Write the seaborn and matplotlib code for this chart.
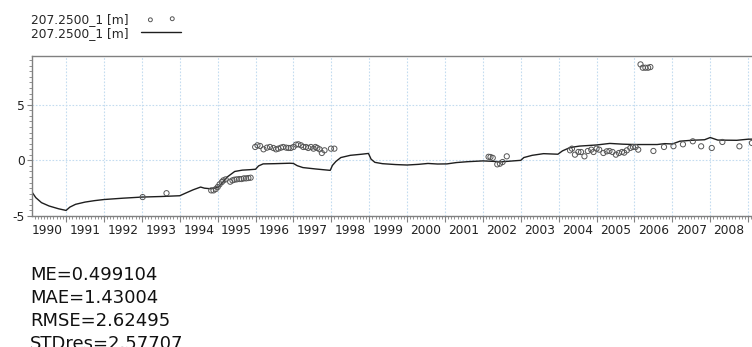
import matplotlib
matplotlib.use("Agg")
import matplotlib.pyplot as plt
import seaborn as sns
from matplotlib.collections import PathCollection
from matplotlib.legend_handler import HandlerPathCollection
from matplotlib.ticker import MultipleLocator, NullLocator

# Simulated head (continuous line), decimal years
sim_year = [1990.10, 1990.20, 1990.35, 1990.55, 1990.80, 1991.00, 1991.10, 1991.25,
            1991.50, 1991.75, 1992.00, 1992.50, 1993.00, 1993.50, 1994.00, 1994.15,
            1994.35, 1994.55, 1994.65, 1994.80, 1995.00, 1995.10, 1995.25, 1995.45,
            1995.65, 1995.85, 1996.00, 1996.08, 1996.20, 1996.50, 1996.90, 1997.00,
            1997.10, 1997.25, 1997.60, 1997.97, 1998.03, 1998.12, 1998.25, 1998.50,
            1998.80, 1998.98, 1999.05, 1999.15, 1999.35, 1999.70, 2000.00, 2000.30,
            2000.55, 2000.80, 2001.05, 2001.30, 2001.60, 2002.00, 2002.20, 2002.50,
            2002.80, 2003.00, 2003.08, 2003.30, 2003.60, 2003.98, 2004.10, 2004.30,
            2004.55, 2005.00, 2005.35, 2005.70, 2006.00, 2006.60, 2006.80, 2007.00,
            2007.20, 2007.50, 2007.85, 2008.00, 2008.20, 2008.70, 2009.00, 2009.50]
sim_level = [-2.85, -3.35, -3.80, -4.10, -4.35, -4.50, -4.20, -3.95,
             -3.75, -3.62, -3.52, -3.40, -3.30, -3.25, -3.18, -2.95,
             -2.65, -2.40, -2.50, -2.55, -2.45, -2.10, -1.50, -1.00,
             -0.88, -0.84, -0.80, -0.50, -0.32, -0.30, -0.26, -0.28,
             -0.48, -0.65, -0.78, -0.90, -0.45, -0.10, 0.25, 0.45,
             0.55, 0.62, 0.10, -0.18, -0.30, -0.38, -0.42, -0.36,
             -0.28, -0.33, -0.32, -0.20, -0.12, -0.05, -0.08, -0.13,
             -0.05, 0.00, 0.25, 0.45, 0.60, 0.55, 0.85, 1.15,
             1.28, 1.38, 1.52, 1.45, 1.42, 1.42, 1.50, 1.47,
             1.72, 1.80, 1.85, 2.05, 1.82, 1.80, 1.90, 1.92]

# Observed head (open circles), decimal years
obs_year = [1993.02, 1993.65,
            1994.83, 1994.89, 1994.95, 1995.00, 1995.05, 1995.11, 1995.15, 1995.21,
            1995.33, 1995.39, 1995.44, 1995.50, 1995.57, 1995.63, 1995.69, 1995.75,
            1995.81, 1995.87,
            1995.99, 1996.05, 1996.12, 1996.21, 1996.30, 1996.38, 1996.47, 1996.54,
            1996.60, 1996.67, 1996.73, 1996.81, 1996.87, 1996.93, 1997.00, 1997.07,
            1997.13, 1997.20, 1997.26, 1997.33, 1997.39, 1997.46, 1997.53, 1997.58,
            1997.63, 1997.69, 1997.75, 1997.82, 1997.99, 1998.08,
            2002.15, 2002.20, 2002.26, 2002.38, 2002.45, 2002.52, 2002.63,
            2004.30, 2004.35, 2004.43, 2004.52, 2004.59, 2004.68, 2004.77, 2004.86,
            2004.92, 2005.00, 2005.07, 2005.18, 2005.27, 2005.34, 2005.42, 2005.51,
            2005.59, 2005.67, 2005.73, 2005.80, 2005.89, 2005.96, 2006.03, 2006.10,
            2006.50, 2006.78, 2007.03, 2007.28, 2007.54, 2007.76, 2008.04, 2008.32,
            2008.77, 2009.10,
            2006.16, 2006.22, 2006.29, 2006.36, 2006.42]
obs_level = [-3.30, -2.95,
             -2.70, -2.70, -2.58, -2.40, -2.16, -1.95, -1.80, -1.71,
             -1.92, -1.80, -1.74, -1.71, -1.68, -1.68, -1.62, -1.62,
             -1.59, -1.56,
             1.20, 1.35, 1.29, 0.99, 1.14, 1.20, 1.11, 0.99,
             1.05, 1.14, 1.20, 1.14, 1.11, 1.11, 1.20, 1.41,
             1.44, 1.35, 1.20, 1.20, 1.11, 1.20, 1.05, 1.20,
             1.11, 0.99, 0.66, 0.90, 1.05, 1.05,
             0.32, 0.30, 0.22, -0.36, -0.30, -0.15, 0.36,
             0.90, 1.05, 0.51, 0.75, 0.75, 0.36, 0.84, 0.96,
             0.75, 1.05, 0.96, 0.66, 0.81, 0.84, 0.75, 0.51,
             0.66, 0.75, 0.69, 0.90, 1.11, 1.20, 1.20, 0.96,
             0.84, 1.20, 1.27, 1.44, 1.71, 1.26, 1.11, 1.65,
             1.26, 1.56,
             8.62, 8.32, 8.32, 8.32, 8.38]

year_labels = list(range(1990, 2009))
series_name = "207.2500_1 [m]"
stats_names = ["ME", "MAE", "RMSE", "STDres"]
stats_values = ["0.499104", "1.43004", "2.62495", "2.57707"]

sns.set_theme(style="white")
plt.rcParams["font.family"] = ["DejaVu Sans"]
plt.rcParams["axes.unicode_minus"] = False

W, H = 752, 347
fig = plt.figure(figsize=(W / 100, H / 100), dpi=100)
# plot area runs past the right edge of the canvas
ax = fig.add_axes([32 / W, (H - 216) / H, 757.8 / W, (216 - 55.7) / H])

sns.lineplot(x=sim_year, y=sim_level, ax=ax, color="#1e1e1e", linewidth=1.0,
             estimator=None, sort=False, label=series_name)
sns.scatterplot(x=obs_year, y=obs_level, ax=ax, marker="o", s=14,
                facecolors="none", edgecolors="#555555", linewidths=0.7,
                label=series_name, zorder=3)

ax.set_xlim(1990.1, 2010.1)
ax.set_ylim(-5, 9.4)
ax.set_xlabel("")
ax.set_ylabel("")

spine_col = "#808080"
for side in ("top", "left", "bottom"):
    ax.spines[side].set_color(spine_col)
    ax.spines[side].set_linewidth(1.0)

ax.xaxis.set_major_locator(MultipleLocator(1))
ax.xaxis.set_minor_locator(MultipleLocator(1 / 12))
ax.yaxis.set_major_locator(MultipleLocator(5))
ax.yaxis.set_minor_locator(MultipleLocator(0.5))
ax.tick_params(axis="x", which="major", bottom=True, length=4.0, width=0.8,
               color=spine_col, direction="out", labelbottom=False)
ax.tick_params(axis="x", which="minor", bottom=True, length=2.0, width=0.6,
               color=spine_col, direction="out")
ax.tick_params(axis="y", which="major", left=True, length=3.6, width=0.8,
               color=spine_col, direction="out", labelsize=8.8, pad=1.5,
               labelcolor="#222222")
ax.tick_params(axis="y", which="minor", left=True, length=2.2, width=0.6,
               color=spine_col, direction="out")

ax.grid(True, which="major", axis="both", color="#c4dcf0",
        linestyle=(0, (1.5, 1.5)), linewidth=0.8)
ax.set_axisbelow(True)

# year names sit in the middle of each year
sec = ax.secondary_xaxis("bottom")
sec.set_xticks([y + 0.5 for y in year_labels], labels=[str(y) for y in year_labels])
sec.xaxis.set_minor_locator(NullLocator())
sec.tick_params(length=0, pad=6.0, labelsize=8.8, labelcolor="#222222")
sec.spines["bottom"].set_visible(False)

# legend above the plot: label first, then its symbol
handles, labels = ax.get_legend_handles_labels()
ax.get_legend().remove()
pts = [h for h in handles if isinstance(h, PathCollection)][0]
line = [h for h in handles if not isinstance(h, PathCollection)][0]
fig.legend(handles=[pts, line], labels=[series_name, series_name],
           loc="upper left", bbox_to_anchor=(31 / W, 1 - 13 / H),
           frameon=False, markerfirst=False, fontsize=8.8,
           handlelength=3.27, handletextpad=1.04, borderpad=0,
           borderaxespad=0, labelspacing=0.05, scatterpoints=2,
           markerscale=0.75,
           handler_map={PathCollection: HandlerPathCollection(marker_pad=0.74)})

stats_text = "\n".join(f"{n}={v}" for n, v in zip(stats_names, stats_values))
fig.text(30 / W, 1 - 265.5 / H, stats_text, fontsize=13, ha="left", va="top",
         linespacing=1.36, color="#111111")

fig.savefig("out.png", dpi=100)
